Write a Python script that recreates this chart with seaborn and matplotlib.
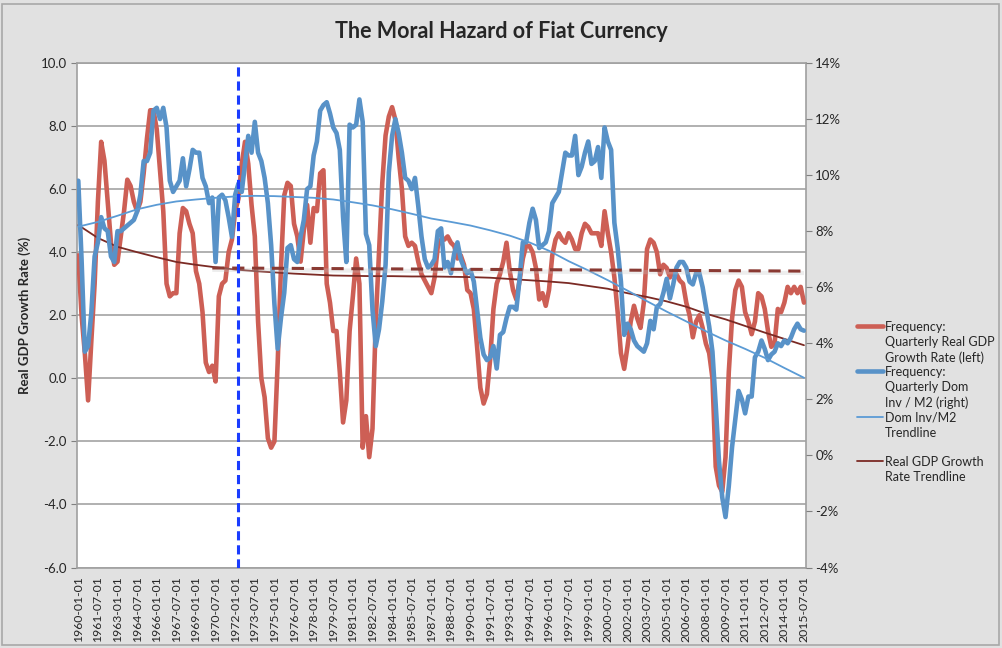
import numpy as np
import pandas as pd
import matplotlib.pyplot as plt
import seaborn as sns
from matplotlib.lines import Line2D
from matplotlib.patches import Rectangle
from matplotlib.ticker import FuncFormatter

sns.set_style('white')
plt.rcParams['font.family'] = ['Lato', 'DejaVu Sans']

# quarterly categories 1960-01-01 .. 2015-07-01
quarters = pd.date_range('1960-01-01', periods=223, freq='QS').strftime('%Y-%m-%d')

# real GDP growth rate, % (left axis)
gdp_growth = [
    3.9, 2.0, 0.8, -0.7, 1.2, 3.0, 5.6, 7.5, 6.9, 5.6, 4.3, 3.6,
    3.7, 4.5, 5.3, 6.3, 6.1, 5.6, 5.3, 5.6, 6.5, 7.6, 8.5, 8.5,
    7.9, 6.6, 5.3, 3.0, 2.6, 2.7, 2.7, 4.6, 5.4, 5.3, 4.9, 4.6,
    3.4, 3.0, 2.1, 0.5, 0.2, 0.4, -0.1, 2.6, 3.0, 3.1, 4.0, 4.4,
    5.3, 5.7, 6.8, 7.5, 6.8, 5.5, 4.5, 1.8, 0.0, -0.6, -1.9, -2.2,
    -2.0, 0.5, 3.5, 5.8, 6.2, 6.1, 4.9, 4.5, 3.7, 4.7, 5.5, 4.3,
    5.4, 5.3, 6.5, 6.6, 3.0, 2.4, 1.5, 1.5, 0.2, -1.4, -0.7, 1.5,
    2.6, 3.8, 3.0, -2.2, -1.2, -2.5, -1.6, 1.8, 4.0, 6.2, 7.7, 8.3,
    8.6, 8.2, 7.0, 6.0, 4.5, 4.2, 4.3, 4.2, 3.7, 3.3, 3.1, 2.9,
    2.7, 3.2, 4.2, 4.4, 4.4, 4.5, 4.3, 4.2, 3.8, 3.9, 3.6, 2.8,
    2.7, 2.2, 1.0, -0.3, -0.8, -0.5, 0.6, 2.2, 3.0, 3.3, 3.7, 4.3,
    3.4, 2.8, 2.5, 3.1, 3.8, 4.2, 4.2, 4.0, 3.5, 2.5, 2.7, 2.3,
    2.8, 3.9, 4.4, 4.6, 4.4, 4.3, 4.6, 4.4, 4.1, 4.1, 4.6, 4.9,
    4.8, 4.6, 4.6, 4.6, 4.2, 5.3, 4.6, 4.0, 3.2, 2.1, 0.8, 0.3,
    1.0, 1.8, 2.3, 1.9, 1.6, 2.4, 4.1, 4.4, 4.3, 4.0, 3.3, 3.6,
    3.5, 3.2, 3.4, 3.3, 3.1, 3.0, 2.4, 2.0, 1.3, 1.8, 2.0, 1.6,
    1.1, 0.8, 0.0, -2.8, -3.4, -3.6, -2.5, 0.2, 1.9, 2.8, 3.1, 2.9,
    2.1, 1.8, 1.4, 1.8, 2.7, 2.6, 2.2, 1.5, 1.0, 1.1, 2.2, 2.1,
    2.4, 2.9, 2.7, 2.9, 2.7, 2.9, 2.4,
]

# domestic investment / M2, % (right axis)
dom_inv_m2 = [
    9.8, 7.0, 3.7, 3.9, 5.1, 7.1, 7.6, 8.5, 8.1, 8.0, 7.1, 6.9,
    8.0, 8.0, 8.1, 8.2, 8.3, 8.4, 8.7, 9.3, 10.5, 10.5, 10.8, 12.3,
    12.4, 12.0, 12.4, 11.7, 9.8, 9.4, 9.6, 9.8, 10.6, 9.6, 10.2, 10.9,
    10.8, 10.8, 9.9, 9.6, 9.0, 9.2, 6.9, 9.2, 9.3, 9.1, 8.5, 7.8,
    9.3, 9.7, 9.4, 10.4, 11.4, 10.8, 11.9, 10.8, 10.5, 9.9, 9.0, 7.5,
    5.4, 3.8, 4.9, 5.8, 7.4, 7.5, 7.0, 6.9, 7.8, 8.4, 9.5, 9.6,
    10.7, 11.2, 12.3, 12.5, 12.6, 12.2, 11.7, 11.5, 10.9, 8.5, 6.9, 11.8,
    11.7, 11.8, 12.7, 11.9, 7.9, 7.5, 5.2, 3.9, 4.5, 5.5, 6.8, 10.1,
    11.4, 12.0, 11.5, 10.8, 9.9, 9.8, 9.5, 9.9, 8.9, 7.8, 7.0, 6.7,
    6.8, 7.0, 8.0, 8.1, 6.7, 6.9, 6.5, 7.2, 7.6, 7.0, 6.7, 6.5,
    6.6, 6.2, 5.2, 4.2, 3.6, 3.4, 3.5, 3.9, 3.1, 4.3, 4.4, 4.9,
    5.3, 5.3, 5.2, 6.3, 7.6, 7.6, 8.3, 8.8, 8.4, 7.4, 7.5, 7.6,
    8.0, 9.0, 9.2, 9.4, 10.1, 10.8, 10.7, 10.7, 11.4, 10.0, 10.3, 10.8,
    11.2, 10.4, 10.5, 11.0, 9.9, 11.7, 11.2, 10.9, 8.3, 7.4, 6.2, 4.3,
    4.7, 4.5, 4.1, 3.9, 3.8, 3.7, 4.0, 4.8, 4.5, 5.3, 5.4, 5.8,
    6.3, 5.6, 6.1, 6.7, 6.9, 6.9, 6.7, 6.2, 6.1, 6.5, 6.5, 6.0,
    5.3, 4.6, 3.7, 1.8, -0.2, -1.5, -2.2, -1.1, 0.3, 1.3, 2.3, 2.0,
    1.5, 2.1, 2.1, 3.5, 3.7, 4.1, 3.8, 3.4, 3.6, 3.7, 4.0, 3.9,
    4.1, 4.0, 4.2, 4.5, 4.7, 4.5, 4.45,
]

# trendlines read every 6 quarters (at the labelled categories)
dom_inv_trend = [
    8.16, 8.33, 8.55, 8.78, 8.94, 9.06, 9.13, 9.19, 9.24, 9.26, 9.25, 9.22, 9.19,
    9.13, 9.03, 8.92, 8.78, 8.62, 8.45, 8.33, 8.2, 8.03, 7.84, 7.6, 7.3, 6.93,
    6.6, 6.25, 5.88, 5.5, 5.13, 4.78, 4.43, 4.1, 3.8, 3.48, 3.12, 2.77,
]
gdp_trend = [
    4.86, 4.45, 4.17, 4.0, 3.84, 3.69, 3.6, 3.52, 3.45, 3.4, 3.36, 3.32, 3.29,
    3.26, 3.25, 3.24, 3.24, 3.23, 3.23, 3.22, 3.21, 3.19, 3.15, 3.11, 3.07, 3.02,
    2.93, 2.84, 2.7, 2.58, 2.44, 2.27, 2.05, 1.87, 1.66, 1.45, 1.25, 1.05,
]

# post-1971 average growth (dashed) and the 1971 marker
avg_start, avg_values = 41, [3.5, 3.4]
marker_pos = 48.8

red = '#cd5f55'
blue = '#5892c8'
trend_blue = '#5b9bd5'
trend_red = '#7b2a24'

idx = np.arange(len(quarters))
trend_idx = idx[::6]

fig = plt.figure(figsize=(10.02, 6.48), dpi=100)
fig.patch.set_facecolor('#e1e1e1')
fig.add_artist(Rectangle((0.002, 0.004), 0.995, 0.99, transform=fig.transFigure,
                         fill=False, edgecolor='#a8a8a8', lw=1.2))

ax = fig.add_axes([0.0765, 0.1242, 0.7275, 0.7786])
ax.set_facecolor('white')
ax2 = ax.twinx()

ax.set_xlim(-0.5, len(quarters) - 0.5)
ax.set_ylim(-6, 10)
ax2.set_ylim(-4, 14)

ax.set_yticks(np.arange(-6, 11, 2))
ax.yaxis.set_major_formatter(FuncFormatter(lambda v, p: f'{v:.1f}'))
ax2.set_yticks(np.arange(-4, 15, 2))
ax2.yaxis.set_major_formatter(FuncFormatter(lambda v, p: f'{v:.0f}%'))
ax.grid(axis='y', color='#a3a3a3', lw=1.2)
ax.set_axisbelow(True)

ax.set_xticks(trend_idx)
ax.set_xticklabels(quarters[::6], rotation=90, fontsize=8.8)
ax.tick_params(axis='x', length=4, color='#808080', pad=2)
ax.tick_params(axis='y', labelsize=9.5, length=4, color='#808080', pad=3, left=True)
ax2.tick_params(axis='y', labelsize=9.5, length=4, color='#808080', pad=3, right=True)

for sp in ax.spines.values():
    sp.set_color('#a0a0a0')
    sp.set_linewidth(1.2)
for sp in ax2.spines.values():
    sp.set_visible(False)

# series
sns.lineplot(x=idx, y=gdp_growth, ax=ax, color=red, linewidth=3.3, zorder=3)
sns.lineplot(x=trend_idx, y=gdp_trend, ax=ax, color=trend_red, linewidth=1.3, zorder=4)
sns.lineplot(x=idx, y=dom_inv_m2, ax=ax2, color=blue, linewidth=3.3, zorder=3)
sns.lineplot(x=trend_idx, y=dom_inv_trend, ax=ax2, color=trend_blue, linewidth=1.3, zorder=4)

# average line with soft shadow, and vertical marker
avg_x = [avg_start, idx[-1]]
ax2.plot(avg_x, [v - 0.06 for v in avg_values], color='#c4c4c4', lw=3, alpha=0.3,
         transform=ax.transData, zorder=5, solid_capstyle='butt')
ax2.plot(avg_x, avg_values, color='#8a3a33', lw=2.2, ls=(0, (4, 2.5)),
         transform=ax.transData, zorder=6)
ax2.axvline(marker_pos, color='#1a3cff', lw=2.2, ls=(0, (3, 1.6)), zorder=7)

ax.set_ylabel('Real GDP Growth Rate (%)', fontsize=9.5, fontweight='bold')
ax.yaxis.set_label_coords(-0.063, 0.5)

fig.text(0.5, 1 - 32 / 648, 'The Moral Hazard of Fiat Currency', ha='center', va='center',
         fontsize=15.5, fontweight='bold')

# legend, Excel style: handle beside the first line of each entry
W, H = 1002, 648
entries = [
    (326, red, 3.3, ['Frequency:', 'Quarterly Real GDP', 'Growth Rate (left)']),
    (371, blue, 3.3, ['Frequency:', 'Quarterly Dom', 'Inv / M2 (right)']),
    (417, trend_blue, 1.3, ['Dom Inv/M2', 'Trendline']),
    (461, trend_red, 1.3, ['Real GDP Growth', 'Rate Trendline']),
]
for ypix, col, lw, lines in entries:
    fig.add_artist(Line2D([857 / W, 883 / W], [1 - ypix / H, 1 - ypix / H],
                          color=col, lw=lw, transform=fig.transFigure))
    for k, txt in enumerate(lines):
        fig.text(885 / W, 1 - (ypix + 1 + 15.3 * k) / H, txt, ha='left', va='center', fontsize=9)

plt.savefig('out.png', dpi=100, facecolor=fig.get_facecolor())
